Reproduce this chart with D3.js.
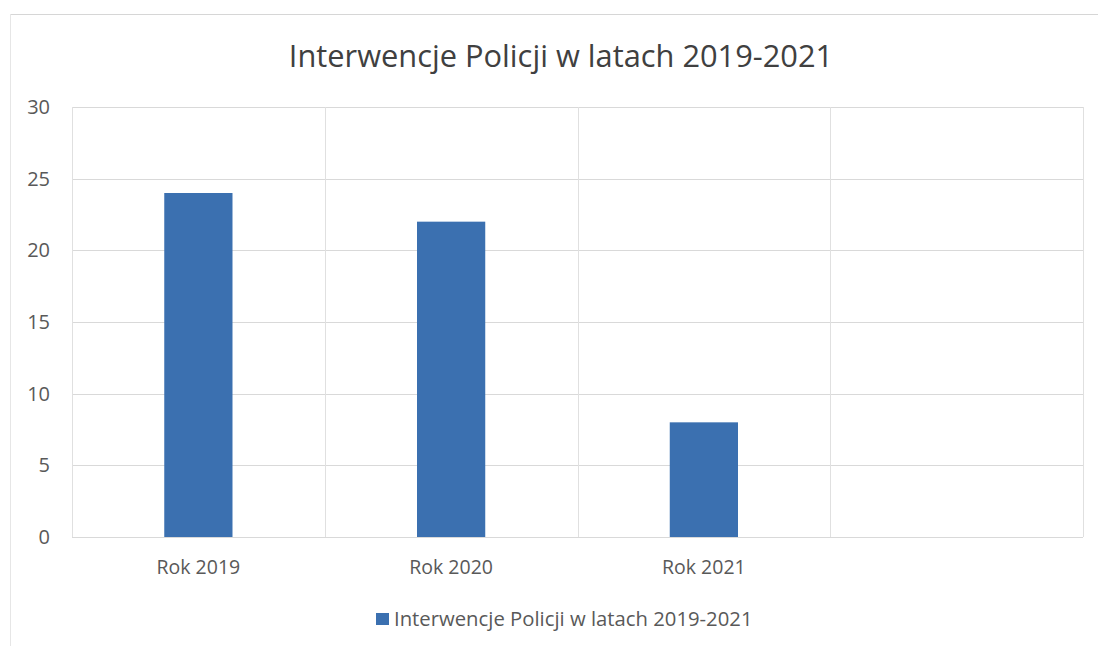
<!DOCTYPE html>
<html>
<head>
<meta charset="utf-8">
<script src="https://cdn.jsdelivr.net/npm/d3@7"></script>
<style>
  body { margin: 0; background: #fff; }
  text { font-family: "Open Sans", sans-serif; }
</style>
</head>
<body>
<div id="chart"></div>
<script>
// data
const categories = ["Rok 2019", "Rok 2020", "Rok 2021", ""];
const values = [24, 22, 8, null];
const yTicks = [0, 5, 10, 15, 20, 25, 30];
const seriesName = "Interwencje Policji w latach 2019-2021";
const chartTitle = "Interwencje Policji w latach 2019-2021";

function drawChart() {
    const width = 1098, height = 646;
    const margin = {top: 107, right: 15, bottom: 109, left: 72};

    const svg = d3.select("#chart")
        .append("svg")
        .attr("width", width)
        .attr("height", height);

    // page / chart border from the scan
    svg.append("line")
        .attr("x1", 10).attr("x2", width)
        .attr("y1", 14.5).attr("y2", 14.5)
        .style("stroke", "#d6d6d6");
    svg.append("line")
        .attr("x1", 10.5).attr("x2", 10.5)
        .attr("y1", 14).attr("y2", height)
        .style("stroke", "#e6e6e6");

    const xScale = d3.scaleBand()
        .domain(categories)
        .range([margin.left, width - margin.right])
        .padding(0);

    const yScale = d3.scaleLinear()
        .domain([0, 30])
        .range([height - margin.bottom, margin.top]);

    // horizontal gridlines
    svg.selectAll(".hgrid")
        .data(yTicks)
        .enter()
        .append("line")
        .attr("class", "hgrid")
        .attr("x1", margin.left)
        .attr("x2", width - margin.right)
        .attr("y1", d => Math.round(yScale(d)) + 0.5)
        .attr("y2", d => Math.round(yScale(d)) + 0.5)
        .style("stroke", "#d9d9d9");

    // vertical gridlines at category boundaries
    const edges = categories.map(c => xScale(c)).concat([xScale.range()[1]]);
    svg.selectAll(".vgrid")
        .data(edges)
        .enter()
        .append("line")
        .attr("class", "vgrid")
        .attr("x1", d => Math.round(d) + 0.5)
        .attr("x2", d => Math.round(d) + 0.5)
        .attr("y1", margin.top)
        .attr("y2", height - margin.bottom)
        .style("stroke", "#e0e0e0");

    // y axis labels
    const yAxis = d3.axisLeft(yScale).tickValues(yTicks).tickSize(0).tickPadding(0);
    const yG = svg.append("g")
        .attr("transform", `translate(${margin.left - 22}, 0)`)
        .call(yAxis);
    yG.select(".domain").remove();
    yG.selectAll("text")
        .style("font-family", "Open Sans, sans-serif")
        .style("font-size", "20px")
        .style("fill", "#595959");

    // x axis labels
    const xAxis = d3.axisBottom(xScale).tickSize(0).tickPadding(0);
    const xG = svg.append("g")
        .attr("transform", `translate(0, ${height - margin.bottom + 23})`)
        .call(xAxis);
    xG.select(".domain").remove();
    xG.selectAll("text")
        .style("font-family", "Open Sans, sans-serif")
        .style("font-size", "19.5px")
        .style("fill", "#595959");

    // bars
    const barW = xScale.bandwidth() * 0.27;
    svg.selectAll(".bar")
        .data(categories.map((c, i) => ({c: c, v: values[i]})).filter(d => d.v != null))
        .enter()
        .append("rect")
        .attr("class", "bar")
        .attr("x", d => xScale(d.c) + (xScale.bandwidth() - barW) / 2)
        .attr("width", barW)
        .attr("y", d => yScale(d.v))
        .attr("height", d => yScale(0) - yScale(d.v))
        .style("fill", "#3b70b0");

    // title
    svg.append("text")
        .attr("x", 561)
        .attr("y", 67)
        .attr("text-anchor", "middle")
        .style("font-size", "30.8px")
        .style("fill", "#404040")
        .text(chartTitle);

    // legend
    svg.append("rect")
        .attr("x", 376).attr("y", 613)
        .attr("width", 13).attr("height", 12)
        .style("fill", "#3b70b0");
    svg.append("text")
        .attr("x", 394)
        .attr("y", 626)
        .style("font-size", "20.3px")
        .style("fill", "#595959")
        .text(seriesName);
}

drawChart();
</script>
</body>
</html>
